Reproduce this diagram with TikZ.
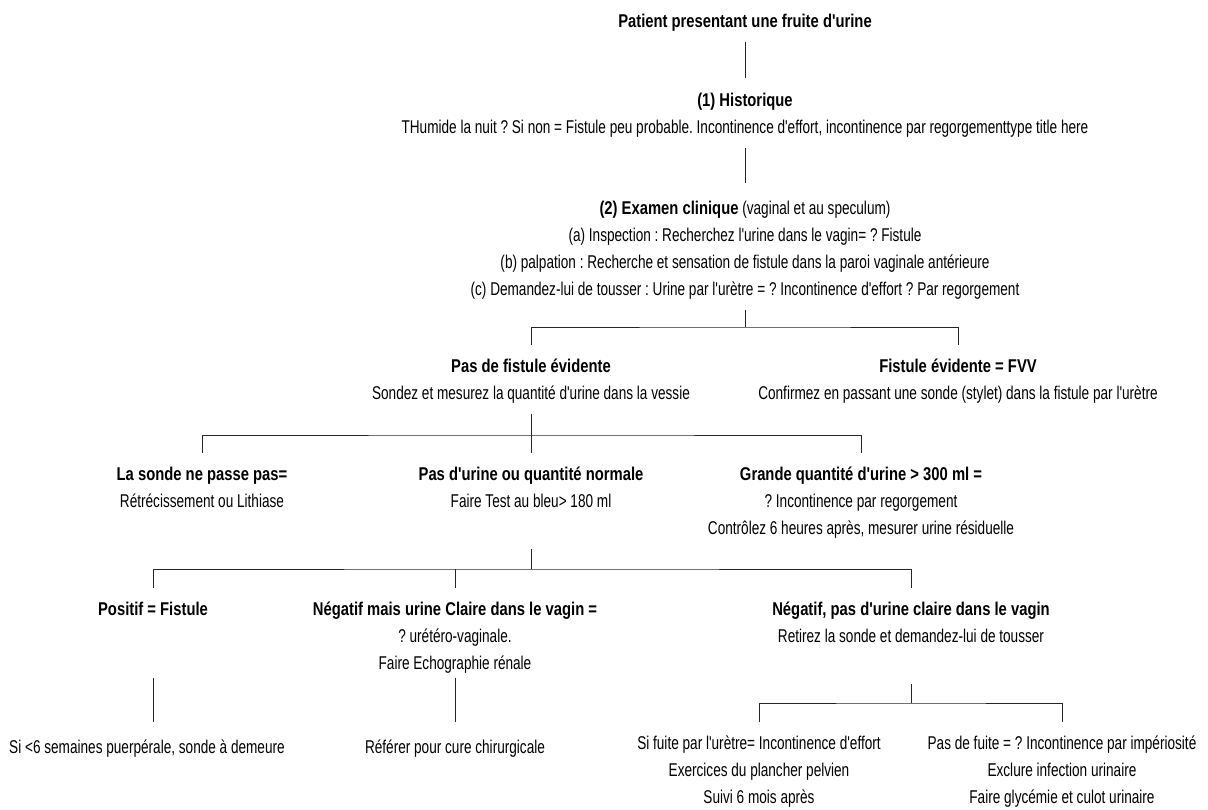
\documentclass[tikz,border=0pt]{standalone}
\usepackage{fontspec}
\setmainfont{Liberation Sans}[FakeStretch=0.735,BoldFeatures={FakeStretch=0.8},Ligatures=TeXOff]
\begin{document}
\frenchspacing
\begin{tikzpicture}[x=1pt,y=-1pt,
    every node/.style={font=\fontsize{18.5}{27}\selectfont, align=center, inner sep=0pt, anchor=north},
    link/.style={line width=0.8pt, black!85}]
    \useasboundingbox (0,0) rectangle (1208,809);
    % levels of the tree
    \node (pat) at (745,14) {\textbf{Patient presentant une fruite d'urine}};
    \node (hist) at (745,93) {\textbf{(1) Historique}\\THumide la nuit ? Si non = Fistule peu probable. Incontinence d'effort, incontinence par regorgementtype title here};
    \node (exam) at (745,201) {\textbf{(2) Examen clinique} (vaginal et au speculum)\\(a) Inspection : Recherchez l'urine dans le vagin= ? Fistule\\(b) palpation : Recherche et sensation de fistule dans la paroi vaginale antérieure\\(c) Demandez-lui de tousser : Urine par l'urètre = ? Incontinence d'effort ? Par regorgement};
    \node (nofist) at (531,359) {\textbf{Pas de fistule évidente}\\Sondez et mesurez la quantité d'urine dans la vessie};
    \node (fvv) at (958,359) {\textbf{Fistule évidente = FVV}\\Confirmez en passant une sonde (stylet) dans la fistule par l'urètre};
    \node (nopass) at (202,467) {\textbf{La sonde ne passe pas=}\\Rétrécissement ou Lithiase};
    \node (normal) at (531,467) {\textbf{Pas d'urine ou quantité normale}\\Faire Test au bleu> 180 ml};
    \node (large) at (861,467) {\textbf{Grande quantité d'urine > 300 ml =}\\? Incontinence par regorgement\\Contrôlez 6 heures après, mesurer urine résiduelle};
    \node (pos) at (153,602) {\textbf{Positif = Fistule}};
    \node (negvag) at (455,602) {\textbf{Négatif mais urine Claire dans le vagin =}\\? urétéro-vaginale.\\Faire Echographie rénale};
    \node (negdry) at (911,602) {\textbf{Négatif, pas d'urine claire dans le vagin}\\Retirez la sonde et demandez-lui de tousser};
    \node (stay) at (147,740) {Si <6 semaines puerpérale, sonde à demeure};
    \node (refer) at (455,740) {Référer pour cure chirurgicale};
    \node (effort) at (759,736) {Si fuite par l'urètre= Incontinence d'effort\\Exercices du plancher pelvien\\Suivi 6 mois après};
    \node (urge) at (1062,736) {Pas de fuite = ? Incontinence par impériosité\\Exclure infection urinaire\\Faire glycémie et culot urinaire};
    % junctions
    \coordinate (j1) at (745,327);
    \coordinate (j2) at (531,435);
    \coordinate (j3) at (531,569);
    \coordinate (j4) at (911,703);
    % connectors
    \draw[link, shorten <=10pt, shorten >=15pt] (pat) -- (hist);
    \draw[link, shorten <=10pt, shorten >=18pt] (hist) -- (exam);
    \draw[link, shorten <=10pt] (exam) -- (j1);
    \draw[link, shorten <=14pt, shorten >=14pt] (nofist) |- (j1) -| (fvv);
    \draw[link, shorten <=10pt] (nofist) -- (j2);
    \draw[link, shorten <=14pt, shorten >=14pt] (nopass) |- (j2) -| (large);
    \draw[link, shorten >=14pt] (j2) -- (normal);
    \draw[link, shorten <=10pt] (large.south -| normal) -- (j3);
    \draw[link, shorten <=14pt, shorten >=14pt] (pos) |- (j3) -| (negdry);
    \draw[link, shorten >=14pt] (negvag |- j3) -- (negvag);
    \draw[link, shorten <=4pt, shorten >=18pt] (negvag.south -| pos) -- (stay.north -| pos);
    \draw[link, shorten <=4pt, shorten >=18pt] (negvag) -- (refer);
    \draw[link, shorten <=10pt] (negvag.south -| negdry) -- (j4);
    \draw[link, shorten <=14pt, shorten >=14pt] (effort) |- (j4) -| (urge);
\end{tikzpicture}
\end{document}
